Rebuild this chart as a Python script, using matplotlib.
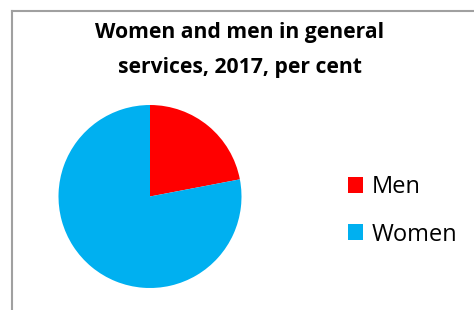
import matplotlib.pyplot as plt
from matplotlib.patches import Patch
from matplotlib.lines import Line2D

plt.rcParams['font.family'] = ['Open Sans', 'DejaVu Sans']

# data
labels = ['Men', 'Women']
shares = [22, 78]
colors = ['#FF0000', '#00B0F0']
title = 'Women and men in general\nservices, 2017, per cent'

W, H = 474, 310
fig = plt.figure(figsize=(W / 100, H / 100), dpi=100)

# chart frame (left and top edges visible)
fig.add_artist(Line2D([12 / W, 12 / W], [0, 1 - 11 / H], color='#A0A0A0', lw=1.5))
fig.add_artist(Line2D([12 / W, 1], [1 - 11 / H, 1 - 11 / H], color='#A0A0A0', lw=1.5))

fig.text(240 / W, 1 - 50 / H, title, ha='center', va='center',
         fontsize=15.2, fontweight='bold', linespacing=1.85)

cx, cy, r = 150, 196.5, 91.5
ax = fig.add_axes([(cx - r) / W, (H - cy - r) / H, 2 * r / W, 2 * r / H])
ax.pie(shares, colors=colors, startangle=90, counterclock=False,
       wedgeprops=dict(linewidth=0))
ax.set_xlim(-1, 1)
ax.set_ylim(-1, 1)
ax.set_aspect('equal')
ax.axis('off')

handles = [Patch(facecolor=c, edgecolor='none') for c in colors]
fig.legend(handles, labels, loc='upper left',
           bbox_to_anchor=(348 / W, 1 - 175 / H), frameon=False,
           fontsize=17, handlelength=0.65, handleheight=0.65,
           handletextpad=0.35, labelspacing=1.0, borderpad=0,
           borderaxespad=0)

fig.savefig('out.png', dpi=100)
